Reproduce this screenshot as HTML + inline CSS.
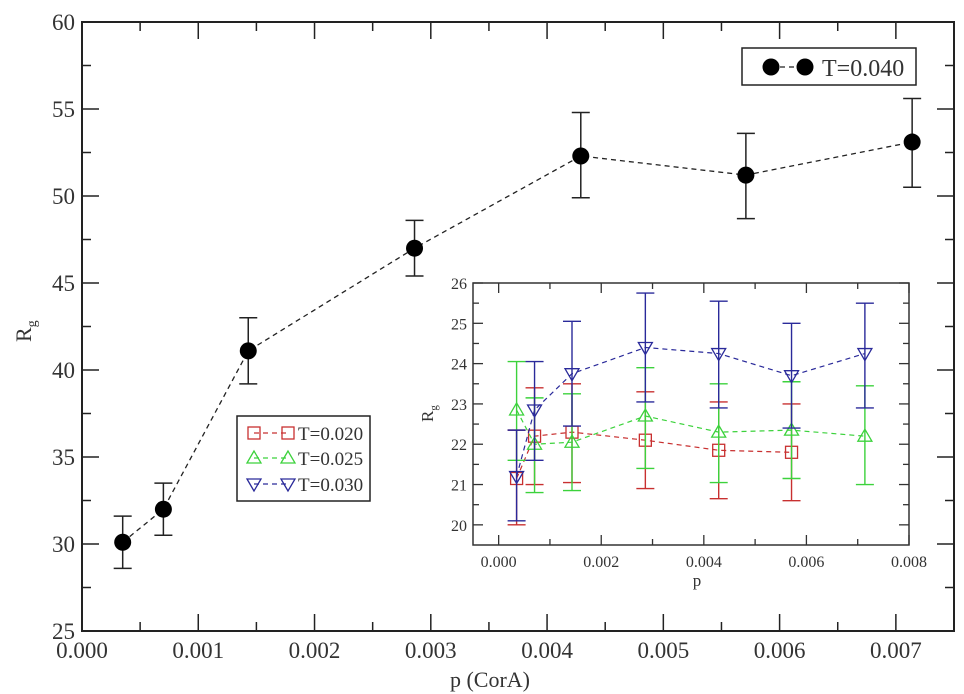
<!DOCTYPE html>
<html><head><meta charset="utf-8"><style>
body{margin:0;background:#fff}
svg{display:block;font-family:"Liberation Serif",serif}
</style></head><body>
<svg id="chart" width="964" height="694"></svg>
<script>
const mainX=[0.00035,0.0007,0.00143,0.00286,0.00429,0.00571,0.00714];
const mainY=[30.1,32,41.1,47,52.3,51.2,53.1];
const mainLo=[28.6,30.5,39.2,45.4,49.9,48.7,50.5];
const mainHi=[31.6,33.5,43,48.6,54.8,53.6,55.6];
const mainXTicks=["0.000","0.001","0.002","0.003","0.004","0.005","0.006","0.007"];
const mainYTicks=["25","30","35","40","45","50","55","60"];
const insX=[0.00035,0.0007,0.00143,0.00286,0.00429,0.00571,0.00714];
const redY=[21.15,22.2,22.3,22.1,21.85,21.8];
const redLo=[20,21,21.05,20.9,20.65,20.6];
const redHi=[22.35,23.4,23.5,23.3,23.05,23.0];
const greenY=[22.85,22.0,22.05,22.7,22.3,22.35,22.2];
const greenLo=[21.6,20.8,20.85,21.4,21.05,21.15,21.0];
const greenHi=[24.05,23.15,23.25,23.9,23.5,23.55,23.45];
const blueY=[21.2,22.85,23.75,24.4,24.25,23.7,24.25];
const blueLo=[20.1,21.6,22.45,23.05,22.9,22.4,22.9];
const blueHi=[22.35,24.05,25.05,25.75,25.55,25.0,25.5];
const insXTicks=["0.000","0.002","0.004","0.006","0.008"];
const insYTicks=["20","21","22","23","24","25","26"];

const svg=document.getElementById('chart');
const NS='http://www.w3.org/2000/svg';
function mk(tag,attrs,parent,text){const e=document.createElementNS(NS,tag);for(const k in attrs)e.setAttribute(k,attrs[k]);if(text!==undefined)e.textContent=text;(parent||svg).appendChild(e);return e;}

const L=82,R=954,T=22,B=631;
const mx=v=>L+(v-0)/0.0075*(R-L);
const my=v=>B-(v-25)/35*(B-T);
let g=mk('g',{});
mk('rect',{x:L,y:T,width:R-L,height:B-T,fill:'none',stroke:'#222','stroke-width':2},g);
for(let i=0;i<=15;i++){const v=i*0.0005,x=mx(v),len=i%2?9:17;
 mk('line',{x1:x,y1:B,x2:x,y2:B-len,stroke:'#222','stroke-width':1.5},g);
 mk('line',{x1:x,y1:T,x2:x,y2:T+len,stroke:'#222','stroke-width':1.5},g);}
mainXTicks.forEach((t,i)=>{const e=mk('text',{x:mx(i*0.001),y:658,'font-size':23,'text-anchor':'middle',fill:'#333'},g,t);});
for(let i=0;i<=14;i++){const v=25+i*2.5,y=my(v),len=i%2?9:17;
 mk('line',{x1:L,y1:y,x2:L+len,y2:y,stroke:'#222','stroke-width':1.5},g);
 mk('line',{x1:R,y1:y,x2:R-len,y2:y,stroke:'#222','stroke-width':1.5},g);}
mainYTicks.forEach((t,i)=>{const e=mk('text',{x:75,y:my(25+i*5)+8,'font-size':23,'text-anchor':'end',fill:'#333'},g,t);});
let xl=mk('text',{x:490,y:687,'font-size':22,'text-anchor':'middle',fill:'#333'},svg,'p (CorA)');

let yl=mk('text',{x:0,y:0,'font-size':22,fill:'#333',transform:'translate(31,342) rotate(-90)'},svg);

yl.innerHTML='R<tspan font-size="14" dy="5">g</tspan>';

let ms=mk('g',{});
mk('polyline',{points:mainX.map((x,i)=>mx(x)+','+my(mainY[i])).join(' '),fill:'none',stroke:'#222','stroke-width':1.3,'stroke-dasharray':'5,4'},ms);
mainX.forEach((x,i)=>{const cx=mx(x);
 mk('line',{x1:cx,y1:my(mainLo[i]),x2:cx,y2:my(mainHi[i]),stroke:'#222','stroke-width':1.5},ms);
 mk('line',{x1:cx-9,y1:my(mainLo[i]),x2:cx+9,y2:my(mainLo[i]),stroke:'#222','stroke-width':1.5},ms);
 mk('line',{x1:cx-9,y1:my(mainHi[i]),x2:cx+9,y2:my(mainHi[i]),stroke:'#222','stroke-width':1.5},ms);
 const c=mk('circle',{cx:cx,cy:my(mainY[i]),r:8.5,fill:'#000'},ms);});

let lg=mk('g',{});
mk('rect',{x:742,y:48,width:174,height:37,fill:'#fff',stroke:'#222','stroke-width':1.5},lg);
mk('line',{x1:771,y1:67,x2:805,y2:67,stroke:'#222','stroke-width':1.3,'stroke-dasharray':'5,4'},lg);
mk('circle',{cx:771,cy:67,r:8.5,fill:'#000'},lg);mk('circle',{cx:805,cy:67,r:8.5,fill:'#000'},lg);
mk('text',{x:822,y:76,'font-size':24,fill:'#333'},lg,'T=0.040');

const iL=473,iR=909,iT=283,iB=545;
const ix=v=>iL+(v+0.0005)/0.0085*(iR-iL);
const iy=v=>iB-(v-19.5)/6.5*(iB-iT);
let ig=mk('g',{});
mk('rect',{x:iL,y:iT,width:iR-iL,height:iB-iT,fill:'#fff',stroke:'#333','stroke-width':1.5},ig);
for(let i=0;i<=8;i++){const x=ix(i*0.001),len=i%2?6:10;
 mk('line',{x1:x,y1:iB,x2:x,y2:iB-len,stroke:'#333','stroke-width':1.3},ig);
 mk('line',{x1:x,y1:iT,x2:x,y2:iT+len,stroke:'#333','stroke-width':1.3},ig);}
insXTicks.forEach((t,i)=>{const e=mk('text',{x:ix(i*0.002),y:567,'font-size':16,'text-anchor':'middle',fill:'#333'},ig,t);});
for(let i=0;i<=12;i++){const v=20+i*0.5,y=iy(v),len=i%2?6:10;
 mk('line',{x1:iL,y1:y,x2:iL+len,y2:y,stroke:'#333','stroke-width':1.3},ig);
 mk('line',{x1:iR,y1:y,x2:iR-len,y2:y,stroke:'#333','stroke-width':1.3},ig);}
insYTicks.forEach((t,i)=>{const e=mk('text',{x:467,y:iy(20+i)+6,'font-size':16,'text-anchor':'end',fill:'#333'},ig,t);});
let ixl=mk('text',{x:697,y:586,'font-size':17,'text-anchor':'middle',fill:'#333'},svg,'p');

let iyl=mk('text',{x:0,y:0,'font-size':17,fill:'#333',transform:'translate(433,422) rotate(-90)'},svg);

iyl.innerHTML='R<tspan font-size="11" dy="4">g</tspan>';

function marker(kind,x,y,col,parent){
 if(kind==='sq')return mk('rect',{x:x-6,y:y-6,width:12,height:12,fill:'none',stroke:col,'stroke-width':1.3},parent);
 if(kind==='up')return mk('polygon',{points:`${x},${y-7} ${x-7},${y+5} ${x+7},${y+5}`,fill:'none',stroke:col,'stroke-width':1.3},parent);
 return mk('polygon',{points:`${x},${y+7} ${x-7},${y-5} ${x+7},${y-5}`,fill:'none',stroke:col,'stroke-width':1.3},parent);}
function series(name,ys,lo,hi,col,kind){
 const s=mk('g',{});
 mk('polyline',{points:ys.map((v,i)=>ix(insX[i])+','+iy(v)).join(' '),fill:'none',stroke:col,'stroke-width':1.2,'stroke-dasharray':'5,4'},s);
 ys.forEach((v,i)=>{const cx=ix(insX[i]);
  mk('line',{x1:cx,y1:iy(lo[i]),x2:cx,y2:iy(hi[i]),stroke:col,'stroke-width':1.4},s);
  mk('line',{x1:cx-9,y1:iy(lo[i]),x2:cx+9,y2:iy(lo[i]),stroke:col,'stroke-width':1.4},s);
  mk('line',{x1:cx-9,y1:iy(hi[i]),x2:cx+9,y2:iy(hi[i]),stroke:col,'stroke-width':1.4},s);
  const m=marker(kind,cx,iy(v),col,s);});}
series('series-t020',redY,redLo,redHi,'#c83030','sq');
series('series-t025',greenY,greenLo,greenHi,'#3cd23c','up');
series('series-t030',blueY,blueLo,blueHi,'#2a2a9a','down');

let il=mk('g',{});
mk('rect',{x:237,y:416,width:133,height:85,fill:'#fff',stroke:'#222','stroke-width':1.5},il);
[['T=0.020','#c83030','sq',433],['T=0.025','#3cd23c','up',458],['T=0.030','#2a2a9a','down',484]].forEach(r=>{
 const e=mk('g',{},il);
 mk('line',{x1:254,y1:r[3],x2:288,y2:r[3],stroke:r[1],'stroke-width':1.2,'stroke-dasharray':'5,4'},e);
 marker(r[2],254,r[3],r[1],e);marker(r[2],288,r[3],r[1],e);
 mk('text',{x:298,y:r[3]+7,'font-size':19,fill:'#333'},e,r[0]);});
</script>
</body></html>
